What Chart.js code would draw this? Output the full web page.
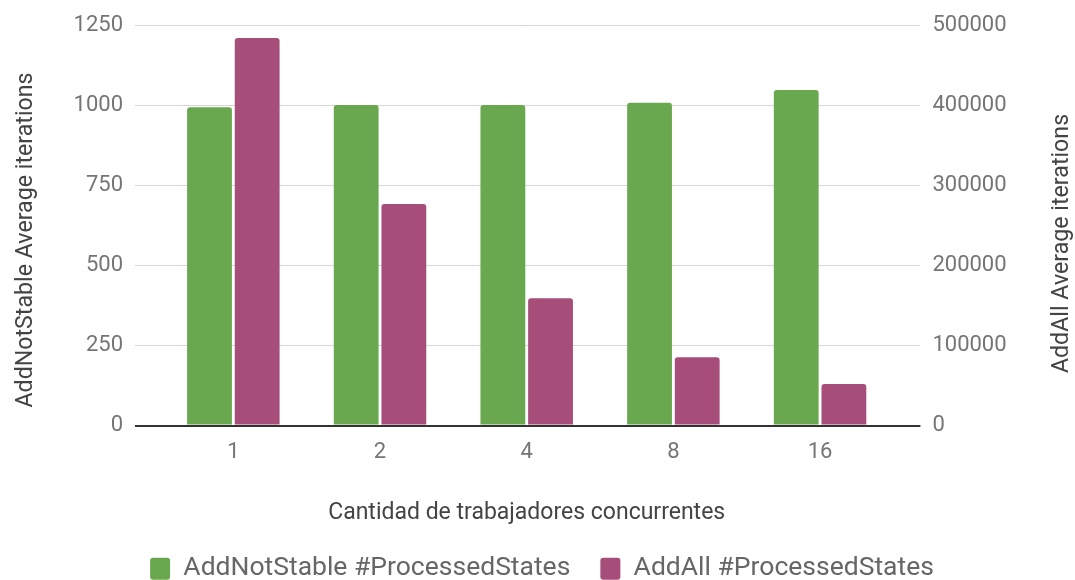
<!DOCTYPE html>
<html>
<head>
<meta charset="utf-8">
<script src="https://cdn.jsdelivr.net/npm/chart.js@4"></script>
<style>
  html, body { margin: 0; padding: 0; background: #fff; }
  #wrap { width: 1075px; height: 580px; }
</style>
</head>
<body>
<div id="wrap"><canvas id="myChart" width="1075" height="580"></canvas></div>
<script>
// datos
const workers = ["1", "2", "4", "8", "16"];
const addNotStable = [994, 1001, 1001, 1008, 1048];
const addAll = [484000, 276800, 159000, 85100, 51900];
const leftTicks = [0, 250, 500, 750, 1000, 1250];
const rightTicks = [0, 100000, 200000, 300000, 400000, 500000];

const leftTitle = "AddNotStable Average iterations";
const rightTitle = "AddAll Average iterations";
const xTitle = "Cantidad de trabajadores concurrentes";

const green = "#6aa84f";
const magenta = "#a64d79";

const gridColor = (ctx) => (ctx.tick && ctx.tick.value === 0 ? "#333333" : "#d6d6d6");
const gridWidth = (ctx) => (ctx.tick && ctx.tick.value === 0 ? 2 : 1);

// titulos de los ejes Y dibujados a mano (ambos leen de abajo hacia arriba)
const axisTitles = {
  id: "axisTitles",
  afterDraw(chart) {
    const ctx = chart.ctx;
    ctx.save();
    ctx.font = "23.2px Roboto";
    ctx.fillStyle = "#444444";
    ctx.textAlign = "center";
    ctx.textBaseline = "alphabetic";
    [[leftTitle, 32, 240], [rightTitle, 1068, 243.5]].forEach(([text, x, y]) => {
      ctx.save();
      ctx.translate(x, y);
      ctx.rotate(-Math.PI / 2);
      ctx.fillText(text, 0, 0);
      ctx.restore();
    });
    ctx.restore();
  },
};

const data = {
  labels: workers,
  datasets: [
    {
      label: "AddNotStable #ProcessedStates",
      data: addNotStable,
      backgroundColor: green,
      yAxisID: "y",
      borderRadius: 3,
      borderSkipped: "start",
    },
    {
      label: "AddAll #ProcessedStates",
      data: addAll,
      backgroundColor: magenta,
      yAxisID: "y1",
      borderRadius: 3,
      borderSkipped: "start",
    },
  ],
};

const config = {
  type: "bar",
  data: data,
  options: {
    responsive: false,
    animation: false,
    categoryPercentage: 0.65,
    barPercentage: 0.94,
    layout: {
      padding: { top: 23.5, bottom: -12, left: 9, right: 0 },
    },
    scales: {
      x: {
        grid: { display: false, drawTicks: false },
        border: { display: false },
        ticks: {
          padding: 14,
          color: "#757575",
          font: { family: "Roboto", size: 22 },
        },
        title: {
          display: true,
          text: xTitle,
          color: "#444444",
          font: { family: "Roboto", size: 23 },
          padding: { top: 0, bottom: -2 },
        },
        afterFit: (scale) => {
          scale.height = 100;
        },
      },
      y: {
        position: "left",
        min: 0,
        max: 1250,
        afterBuildTicks: (scale) => {
          scale.ticks = leftTicks.map((v) => ({ value: v }));
        },
        grid: { color: gridColor, lineWidth: gridWidth, tickLength: 25 },
        border: { display: false },
        ticks: {
          padding: 12,
          color: "#757575",
          font: { family: "Roboto", size: 22 },
          callback: (v) => String(v),
        },
        afterFit: (scale) => {
          scale.width = 151;
        },
      },
      y1: {
        position: "right",
        min: 0,
        max: 500000,
        afterBuildTicks: (scale) => {
          scale.ticks = rightTicks.map((v) => ({ value: v }));
        },
        grid: { drawOnChartArea: false, color: gridColor, lineWidth: gridWidth, tickLength: 27 },
        border: { display: false },
        ticks: {
          padding: 12,
          color: "#757575",
          font: { family: "Roboto", size: 22 },
          callback: (v) => String(v),
        },
        afterFit: (scale) => {
          scale.width = 181.6;
        },
      },
    },
    plugins: {
      legend: {
        position: "bottom",
        labels: {
          boxWidth: 20,
          boxHeight: 22,
          padding: 30,
          color: "#666666",
          useBorderRadius: true,
          borderRadius: 3,
          font: { family: "Roboto", size: 26.5 },
        },
      },
      tooltip: { enabled: false },
    },
  },
  plugins: [axisTitles],
};

new Chart(document.getElementById("myChart"), config);
</script>
</body>
</html>
